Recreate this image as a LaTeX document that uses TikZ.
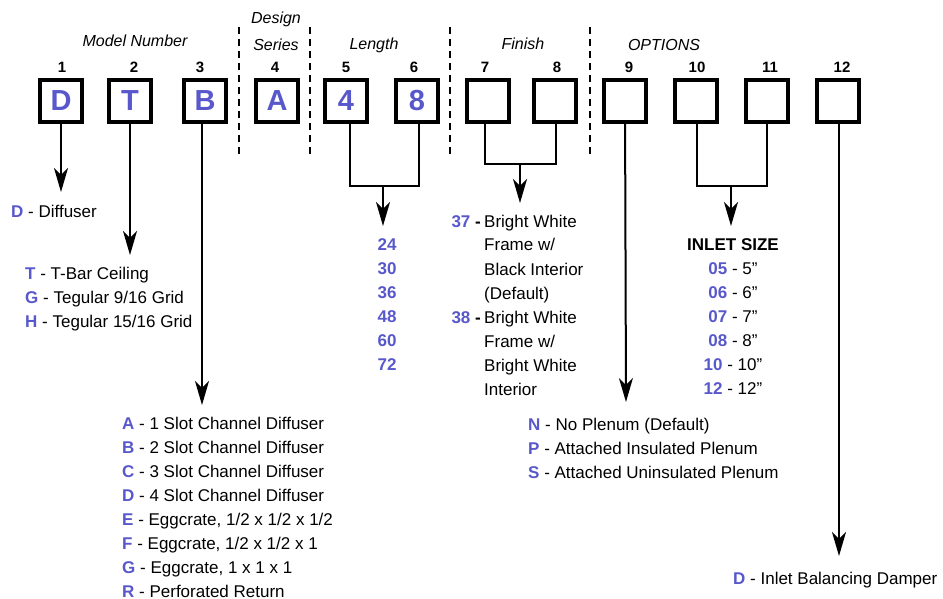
\documentclass[tikz,border=0pt]{standalone}
\usepackage{fontspec}
\setmainfont{Liberation Sans}
\usetikzlibrary{arrows.meta, calc}

\definecolor{codeblue}{RGB}{88,88,204}
\newcommand{\cd}[1]{\textcolor{codeblue}{\textbf{#1}}}

\tikzset{
  digit/.style={draw, line width=3.8pt, minimum size=42pt, inner sep=0pt,
    font=\fontsize{29}{29}\selectfont\bfseries, text=codeblue},
  posnum/.style={font=\fontsize{15}{15}\selectfont\bfseries, anchor=base, inner sep=0pt},
  head/.style={font=\fontsize{16}{16}\selectfont\itshape, anchor=base, inner sep=0pt},
  item/.style={font=\fontsize{17}{17}\selectfont, anchor=base west, inner sep=0pt},
  citem/.style={font=\fontsize{17}{17}\selectfont, anchor=base, inner sep=0pt},
  wire/.style={line width=2pt},
  arr/.style={line width=2pt, -{Stealth[length=24pt, width=14pt, inset=7pt]}},
  sep/.style={line width=2.5pt, dash pattern=on 7pt off 5pt}
}

\begin{document}
\begin{tikzpicture}[x=1pt, y=-1pt]
\useasboundingbox (0,0) rectangle (943,599);

            %% headings
            \node[head] (hmodel) at (135, 47) {Model Number};
            \node[head] (hdesign) at (276, 24) {Design};
            \node[head] (hseries) at (276, 51) {Series};
            \node[head] (hlength) at (374, 50) {Length};
            \node[head] (hfinish) at (523, 50) {Finish};
            \node[head] (hoptions) at (664, 51) {OPTIONS};

            \draw[sep] (239, 27) -- (239, 155);
            \draw[sep] (310, 27) -- (310, 155);
            \draw[sep] (450, 27) -- (450, 155);
            \draw[sep] (590, 27) -- (590, 155);

            %% boxes
            \node[digit] (b1) at (61, 101) {D};
            \node[digit] (b2) at (130, 101) {T};
            \node[digit] (b3) at (205, 101) {B};
            \node[digit] (b4) at (277, 101) {A};
            \node[digit] (b5) at (346, 101) {4};
            \node[digit] (b6) at (417, 101) {8};
            \node[digit] (b7) at (488, 101) {};
            \node[digit] (b8) at (555, 101) {};
            \node[digit] (b9) at (625, 101) {};
            \node[digit] (b10) at (696, 101) {};
            \node[digit] (b11) at (767, 101) {};
            \node[digit] (b12) at (838, 101) {};

            %% positions
            \node[posnum] (n1) at (62, 73) {1};
            \node[posnum] (n2) at (134, 73) {2};
            \node[posnum] (n3) at (200, 73) {3};
            \node[posnum] (n4) at (275, 73) {4};
            \node[posnum] (n5) at (346, 73) {5};
            \node[posnum] (n6) at (414, 73) {6};
            \node[posnum] (n7) at (485, 73) {7};
            \node[posnum] (n8) at (557, 73) {8};
            \node[posnum] (n9) at (629, 73) {9};
            \node[posnum] (n10) at (697, 73) {10};
            \node[posnum] (n11) at (770, 73) {11};
            \node[posnum] (n12) at (842, 73) {12};

            %% 1
            \coordinate (t1) at (61, 192);
            \draw[arr] (b1) -- (t1);
            \node[item] (d1) at (11, 217) {\cd{D} - Diffuser};

            %% 2
            \coordinate (t2) at (130, 255);
            \draw[arr] (b2) -- (t2);
            \node[item] (c1) at (25, 279) {\cd{T} - T-Bar Ceiling};
            \node[item] (c2) at (25, 303) {\cd{G} - Tegular 9/16 Grid};
            \node[item] (c3) at (25, 327) {\cd{H} - Tegular 15/16 Grid};

            %% 3
            \coordinate (t3) at (202, 405);
            \draw[arr] ([xshift=-3pt]b3.south) -- (t3);
            \node[item] (s1) at (122, 429) {\cd{A} - 1 Slot Channel Diffuser};
            \node[item] (s2) at (122, 453) {\cd{B} - 2 Slot Channel Diffuser};
            \node[item] (s3) at (122, 477) {\cd{C} - 3 Slot Channel Diffuser};
            \node[item] (s4) at (122, 501) {\cd{D} - 4 Slot Channel Diffuser};
            \node[item] (s5) at (122, 525) {\cd{E} - Eggcrate, 1/2 x 1/2 x 1/2};
            \node[item] (s6) at (122, 549) {\cd{F} - Eggcrate, 1/2 x 1/2 x 1};
            \node[item] (s7) at (122, 573) {\cd{G} - Eggcrate, 1 x 1 x 1};
            \node[item] (s8) at (122, 597) {\cd{R} - Perforated Return};

            %% 5-6
            \coordinate (j56) at (383, 186);
            \coordinate (t56) at (383, 226);
            \draw[wire] ([xshift=4pt]b5.south) |- (j56) -| ([xshift=2pt]b6.south);
            \draw[arr] (j56) -- (t56);
            \node[citem] (l1) at (387, 250) {\cd{24}};
            \node[citem] (l2) at (387, 274) {\cd{30}};
            \node[citem] (l3) at (387, 298) {\cd{36}};
            \node[citem] (l4) at (387, 322) {\cd{48}};
            \node[citem] (l5) at (387, 346) {\cd{60}};
            \node[citem] (l6) at (387, 370) {\cd{72}};

            %% 7-8
            \coordinate (j78) at (520, 164);
            \coordinate (t78) at (520, 203);
            \draw[wire] ([xshift=-3pt]b7.south) |- (j78) -| ([xshift=1pt]b8.south);
            \draw[arr] (j78) -- (t78);
            \node[citem, anchor=base east] (k37) at (481, 227) {\cd{37} \textbf{-}};
            \node[item] (f1) at (484, 227) {Bright White};
            \node[item] (f2) at (484, 251) {Frame w/};
            \node[item] (f3) at (484, 275) {Black Interior};
            \node[item] (f4) at (484, 299) {(Default)};
            \node[citem, anchor=base east] (k38) at (481, 323) {\cd{38} \textbf{-}};
            \node[item] (f5) at (484, 323) {Bright White};
            \node[item] (f6) at (484, 347) {Frame w/};
            \node[item] (f7) at (484, 371) {Bright White};
            \node[item] (f8) at (484, 395) {Interior};

            %% 9
            \coordinate (t9) at (626, 402);
            \draw[arr] (b9) -- (t9);
            \node[item] (p1) at (528, 430) {\cd{N} - No Plenum (Default)};
            \node[item] (p2) at (528, 454) {\cd{P} - Attached Insulated Plenum};
            \node[item] (p3) at (528, 478) {\cd{S} - Attached Uninsulated Plenum};

            %% 10-11
            \coordinate (j1011) at (731, 186);
            \coordinate (t1011) at (731, 226);
            \draw[wire] ([xshift=1pt]b10.south) |- (j1011) -| (b11.south);
            \draw[arr] (j1011) -- (t1011);
            \node[citem, font=\fontsize{17}{17}\selectfont\bfseries] (inlet) at (733, 250) {INLET SIZE};
            \node[citem] (i1) at (733, 274) {\cd{05} - 5”};
            \node[citem] (i2) at (733, 298) {\cd{06} - 6”};
            \node[citem] (i3) at (733, 322) {\cd{07} - 7”};
            \node[citem] (i4) at (733, 346) {\cd{08} - 8”};
            \node[citem] (i5) at (733, 370) {\cd{10} - 10”};
            \node[citem] (i6) at (733, 394) {\cd{12} - 12”};

            %% 12
            \coordinate (t12) at (839, 556);
            \draw[arr] ([xshift=1pt]b12.south) -- (t12);
            \node[item] (dmp) at (733, 584) {\cd{D} - Inlet Balancing Damper};

\end{tikzpicture}
\end{document}
